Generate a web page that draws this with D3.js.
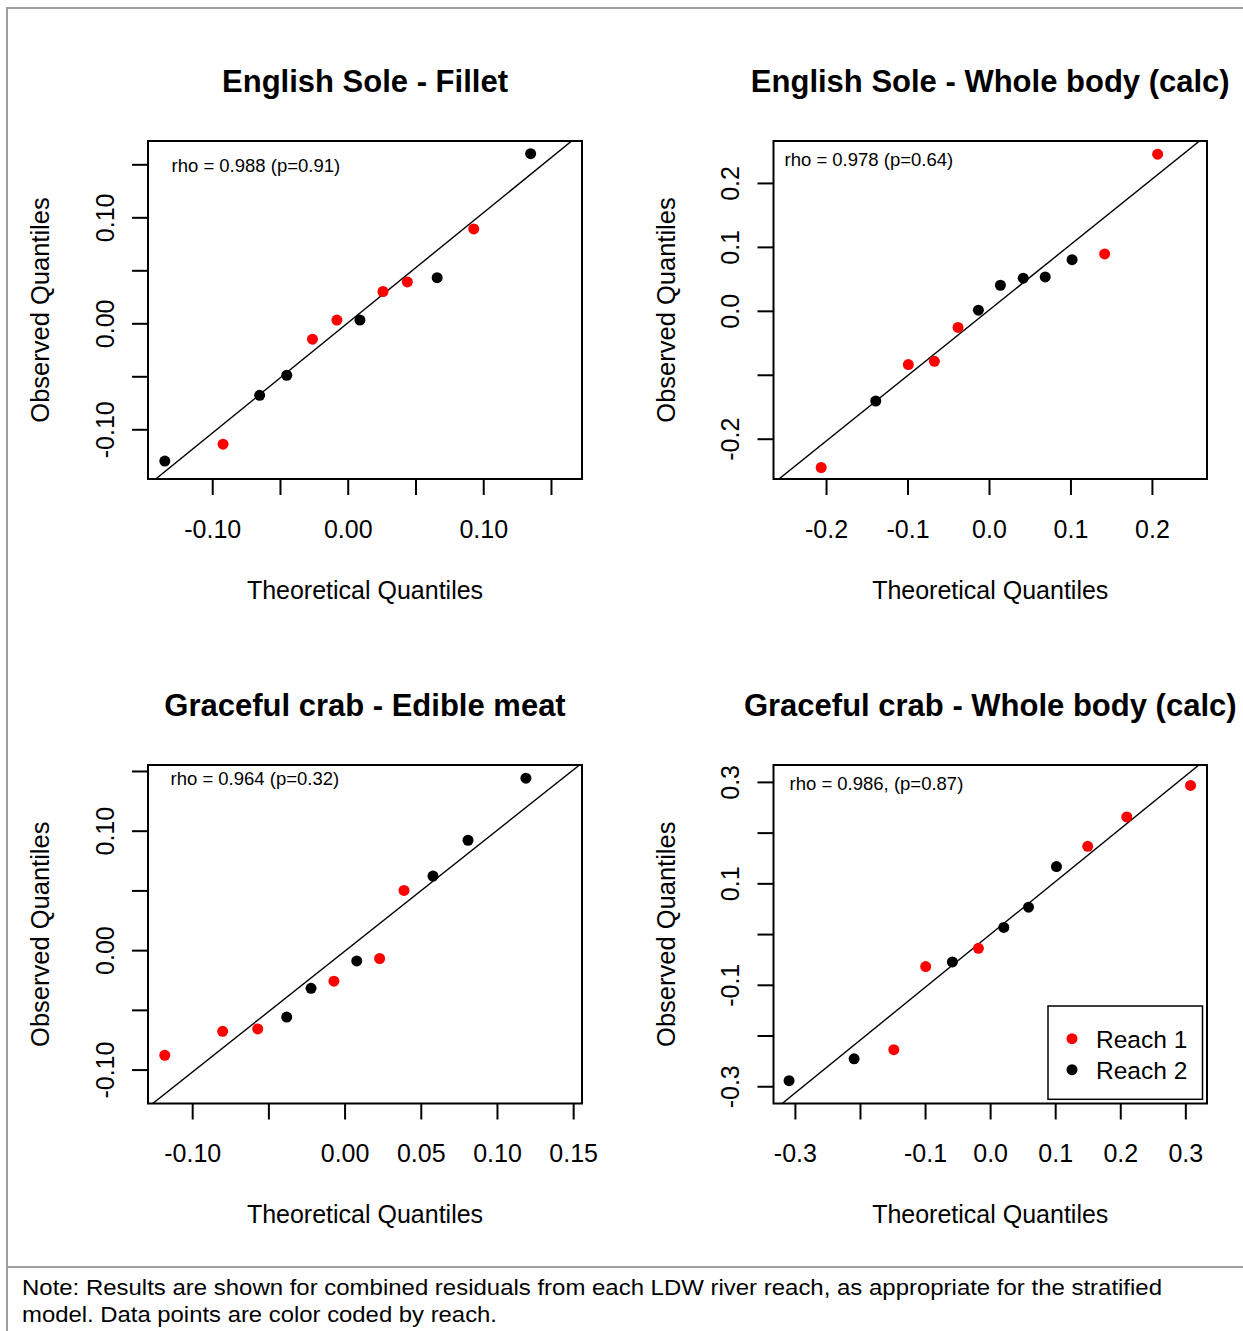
<!DOCTYPE html>
<html>
<head>
<meta charset="utf-8">
<script src="https://cdn.jsdelivr.net/npm/d3@7"></script>
<style>
  body { margin: 0; background: #fff; }
  svg { display: block; }
  text { font-family: "Liberation Sans", Arial, Helvetica, sans-serif; }
</style>
</head>
<body>
<svg id="chart" width="1243" height="1331"></svg>
<script>
// ---- Panel labels -------------------------------------------------------
const panelTitles = [
  "English Sole - Fillet",
  "English Sole - Whole body (calc)",
  "Graceful crab - Edible meat",
  "Graceful crab - Whole body (calc)"
];
const rhoLabels = [
  "rho = 0.988 (p=0.91)",
  "rho = 0.978 (p=0.64)",
  "rho = 0.964 (p=0.32)",
  "rho = 0.986, (p=0.87)"
];
const reachNames = ["Reach 1", "Reach 2"];
const reachColors = ["#ff0000", "#000000"];
const xAxisTitle = "Theoretical Quantiles";
const yAxisTitle = "Observed Quantiles";
const noteLines = [
  "Note: Results are shown for combined residuals from each LDW river reach, as appropriate for the stratified",
  "model. Data points are color coded by reach."
];

// ---- Residual quantiles (theoretical vs observed), reach of each point ---
const esFilletTheo  = [-0.135, -0.092, -0.065, -0.045, -0.026, -0.008, 0.009, 0.026, 0.044, 0.066, 0.093, 0.135];
const esFilletObs   = [-0.130, -0.114, -0.068, -0.049, -0.015, 0.003, 0.003, 0.030, 0.039, 0.043, 0.089, 0.160];
const esFilletReach = [2, 1, 2, 2, 1, 1, 2, 1, 1, 2, 1, 2];

const esWholeTheo  = [-0.206, -0.139, -0.099, -0.067, -0.038, -0.013, 0.014, 0.042, 0.069, 0.102, 0.142, 0.207];
const esWholeObs   = [-0.245, -0.141, -0.084, -0.079, -0.026, 0.001, 0.040, 0.051, 0.053, 0.080, 0.089, 0.245];
const esWholeReach = [1, 2, 1, 1, 1, 2, 2, 2, 2, 2, 1, 1];

const gcMeatTheo  = [-0.118, -0.080, -0.057, -0.038, -0.022, -0.007, 0.008, 0.023, 0.039, 0.058, 0.081, 0.119];
const gcMeatObs   = [-0.088, -0.068, -0.066, -0.056, -0.032, -0.026, -0.009, -0.007, 0.050, 0.062, 0.092, 0.144];
const gcMeatReach = [1, 1, 1, 2, 2, 1, 2, 1, 1, 2, 2, 2];

const gcWholeTheo  = [-0.309, -0.209, -0.148, -0.099, -0.058, -0.018, 0.021, 0.059, 0.102, 0.150, 0.210, 0.308];
const gcWholeObs   = [-0.289, -0.246, -0.228, -0.064, -0.055, -0.028, 0.013, 0.053, 0.133, 0.173, 0.231, 0.293];
const gcWholeReach = [2, 2, 1, 1, 2, 1, 2, 2, 2, 1, 1, 1];

// ---- Reference (qq) lines: observed = intercept + slope * theoretical ----
const refSlopes     = [1.039, 1.024, 1.012, 1.042];
const refIntercepts = [0.0003, 0.001, -0.001, -0.001];

// ---- Axis limits ---------------------------------------------------------
const xLimits = [[-0.1474, 0.1729], [-0.2645, 0.2676], [-0.1290, 0.1558], [-0.3329, 0.3333]];
const yLimits = [[-0.1469, 0.1720], [-0.2630, 0.2656], [-0.1284, 0.1550], [-0.3340, 0.3333]];

// ---- Ticks (empty label = tick without text) -----------------------------
const xTickValues = [
  [-0.10, -0.05, 0, 0.05, 0.10, 0.15],
  [-0.2, -0.1, 0, 0.1, 0.2],
  [-0.10, -0.05, 0, 0.05, 0.10, 0.15],
  [-0.3, -0.2, -0.1, 0, 0.1, 0.2, 0.3]
];
const xTickLabels = [
  ["-0.10", "", "0.00", "", "0.10", ""],
  ["-0.2", "-0.1", "0.0", "0.1", "0.2"],
  ["-0.10", "", "0.00", "0.05", "0.10", "0.15"],
  ["-0.3", "", "-0.1", "0.0", "0.1", "0.2", "0.3"]
];
const yTickValues = [
  [-0.10, -0.05, 0, 0.05, 0.10, 0.15],
  [-0.2, -0.1, 0, 0.1, 0.2],
  [-0.10, -0.05, 0, 0.05, 0.10, 0.15],
  [-0.3, -0.2, -0.1, 0, 0.1, 0.2, 0.3]
];
const yTickLabels = [
  ["-0.10", "", "0.00", "", "0.10", ""],
  ["-0.2", "", "0.0", "0.1", "0.2"],
  ["-0.10", "", "0.00", "", "0.10", ""],
  ["-0.3", "", "-0.1", "", "0.1", "", "0.3"]
];

// ---- Assemble panels -----------------------------------------------------
const series = [
  [esFilletTheo, esFilletObs, esFilletReach],
  [esWholeTheo, esWholeObs, esWholeReach],
  [gcMeatTheo, gcMeatObs, gcMeatReach],
  [gcWholeTheo, gcWholeObs, gcWholeReach]
];

// plot boxes (pixel layout)
const boxes = [
  { x0: 148,   x1: 582,  y0: 141, y1: 479 },
  { x0: 773.5, x1: 1207, y0: 141, y1: 479 },
  { x0: 148,   x1: 582,  y0: 765, y1: 1103.5 },
  { x0: 773.5, x1: 1207, y0: 765, y1: 1103.5 }
];
const rhoOffsets = [[23.5, 30.5], [11, 24.5], [22.5, 20], [16, 25]];

const svg = d3.select("#chart");
svg.append("rect").attr("width", 1243).attr("height", 1331).attr("fill", "#fff");

// outer frame
const frame = svg.append("g").attr("stroke", "#a0a0a0").attr("stroke-width", 2).attr("fill", "none");
frame.append("line").attr("x1", 6).attr("x2", 1243).attr("y1", 8).attr("y2", 8);
frame.append("line").attr("x1", 7).attr("x2", 7).attr("y1", 7).attr("y2", 1331);
frame.append("line").attr("x1", 7).attr("x2", 1243).attr("y1", 1267).attr("y2", 1267);

const tickFont = 25;

series.forEach(([theo, obs, reach], p) => {
  const b = boxes[p];
  const g = svg.append("g");
  const x = d3.scaleLinear().domain(xLimits[p]).range([b.x0, b.x1]);
  const y = d3.scaleLinear().domain(yLimits[p]).range([b.y1, b.y0]);

  const clipId = "clip" + p;
  g.append("clipPath").attr("id", clipId)
    .append("rect").attr("x", b.x0).attr("y", b.y0)
    .attr("width", b.x1 - b.x0).attr("height", b.y1 - b.y0);

  // reference line
  const lx = [xLimits[p][0] - 0.1, xLimits[p][1] + 0.1];
  g.append("line")
    .attr("clip-path", `url(#${clipId})`)
    .attr("x1", x(lx[0])).attr("y1", y(refIntercepts[p] + refSlopes[p] * lx[0]))
    .attr("x2", x(lx[1])).attr("y2", y(refIntercepts[p] + refSlopes[p] * lx[1]))
    .attr("stroke", "#000").attr("stroke-width", 1.4);

  // points
  g.append("g").selectAll("circle")
    .data(theo.map((t, i) => ({ t, o: obs[i], r: reach[i] })))
    .join("circle")
    .attr("cx", d => x(d.t))
    .attr("cy", d => y(d.o))
    .attr("r", 5.5)
    .attr("fill", d => reachColors[d.r - 1]);

  // plot box
  g.append("rect")
    .attr("x", b.x0).attr("y", b.y0)
    .attr("width", b.x1 - b.x0).attr("height", b.y1 - b.y0)
    .attr("fill", "none").attr("stroke", "#000").attr("stroke-width", 2);

  // x axis
  const xa = g.append("g")
    .attr("transform", `translate(0,${b.y1})`)
    .call(d3.axisBottom(x).tickValues(xTickValues[p])
      .tickFormat((d, i) => xTickLabels[p][i]).tickSize(16));
  xa.attr("font-family", null).attr("font-size", null);
  xa.select(".domain").remove();
  xa.selectAll(".tick line").attr("stroke", "#000").attr("stroke-width", 2);
  xa.selectAll(".tick text")
    .attr("y", 58.5).attr("dy", null)
    .attr("fill", "#000").style("font-size", tickFont + "px");

  // y axis
  const ya = g.append("g")
    .attr("transform", `translate(${b.x0},0)`)
    .call(d3.axisLeft(y).tickValues(yTickValues[p])
      .tickFormat((d, i) => yTickLabels[p][i]).tickSize(16));
  ya.attr("font-family", null).attr("font-size", null);
  ya.select(".domain").remove();
  ya.selectAll(".tick line").attr("stroke", "#000").attr("stroke-width", 2);
  ya.selectAll(".tick text")
    .attr("x", null).attr("dy", null)
    .attr("text-anchor", "middle")
    .attr("transform", "translate(-34.5,0) rotate(-90)")
    .attr("fill", "#000").style("font-size", tickFont + "px");

  // titles
  const cx = (b.x0 + b.x1) / 2, cy = (b.y0 + b.y1) / 2;
  g.append("text")
    .attr("x", cx).attr("y", b.y0 - 49.5)
    .attr("text-anchor", "middle")
    .style("font-size", "31px").style("font-weight", "bold")
    .text(panelTitles[p]);
  g.append("text")
    .attr("x", cx).attr("y", b.y1 + 119.5)
    .attr("text-anchor", "middle")
    .style("font-size", "25px")
    .text(xAxisTitle);
  g.append("text")
    .attr("transform", `translate(${b.x0 - 99},${cy}) rotate(-90)`)
    .attr("text-anchor", "middle")
    .style("font-size", "25.5px")
    .text(yAxisTitle);

  // correlation annotation
  g.append("text")
    .attr("x", b.x0 + rhoOffsets[p][0]).attr("y", b.y0 + rhoOffsets[p][1])
    .style("font-size", "18.5px")
    .text(rhoLabels[p]);

  // legend in the last panel
  if (p === 3) {
    const lg = g.append("g").attr("transform", `translate(${b.x1 - 159},${b.y1 - 97.5})`);
    lg.append("rect").attr("width", 154.5).attr("height", 93.3)
      .attr("fill", "#fff").attr("stroke", "#000").attr("stroke-width", 1.5);
    reachNames.forEach((name, i) => {
      lg.append("circle").attr("cx", 24).attr("cy", 32.7 + i * 31).attr("r", 5.5)
        .attr("fill", reachColors[i]);
      lg.append("text").attr("x", 48).attr("y", 42.3 + i * 31)
        .style("font-size", "24.5px").text(name);
    });
  }
});

// footnote
svg.append("g").selectAll("text")
  .data(noteLines)
  .join("text")
  .attr("x", 22)
  .attr("y", (d, i) => 1294.5 + i * 27)
  .attr("textLength", (d, i) => i === 0 ? 1140 : 475)
  .attr("lengthAdjust", "spacingAndGlyphs")
  .style("font-size", "22px")
  .text(d => d);
</script>
</body>
</html>
